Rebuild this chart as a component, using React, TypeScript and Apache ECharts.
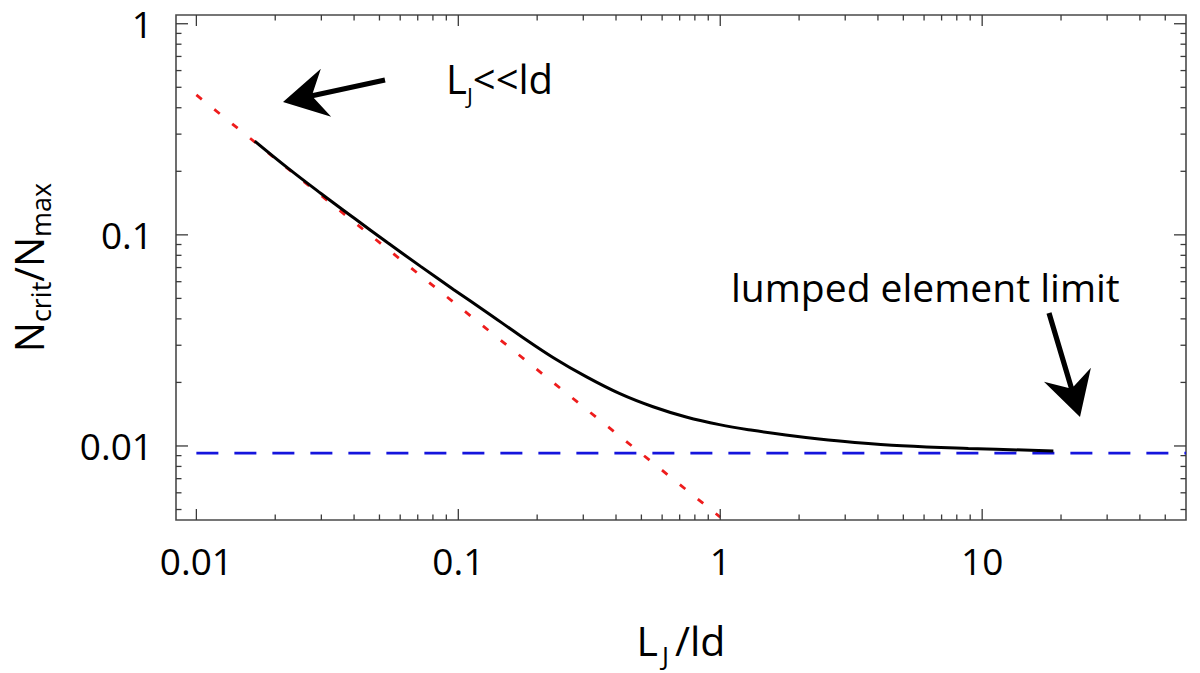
import React, { useEffect, useRef } from "react";
import * as echarts from "echarts";

// ---- data ----
const xTickValues = [0.01, 0.1, 1, 10];
const xTickLabels = ["0.01", "0.1", "1", "10"];
const xMinorTicks = [
  0.02, 0.03, 0.04, 0.05, 0.06, 0.07, 0.08, 0.09,
  0.2, 0.3, 0.4, 0.5, 0.6, 0.7, 0.8, 0.9,
  2, 3, 4, 5, 6, 7, 8, 9,
  20, 30, 40, 50,
];
const yTickValues = [0.01, 0.1, 1];
const yTickLabels = ["0.01", "0.1", "1"];
const yMinorTicks = [
  0.005, 0.006, 0.007, 0.008, 0.009,
  0.02, 0.03, 0.04, 0.05, 0.06, 0.07, 0.08, 0.09,
  0.2, 0.3, 0.4, 0.5, 0.6, 0.7, 0.8, 0.9,
];

// N_crit/N_max vs L_J/ld (black solid curve)
const criticalCurve: [number, number][] = [
  [0.0167, 0.278],
  [0.0223, 0.2077],
  [0.0299, 0.1571],
  [0.0401, 0.1198],
  [0.0536, 0.092],
  [0.0718, 0.0709],
  [0.0961, 0.055],
  [0.1287, 0.0429],
  [0.1724, 0.0333],
  [0.2307, 0.0262],
  [0.3088, 0.02125],
  [0.4137, 0.0177],
  [0.5538, 0.01534],
  [0.741, 0.01372],
  [0.993, 0.01262],
  [1.329, 0.01186],
  [1.779, 0.01127],
  [2.384, 0.01079],
  [3.19, 0.01042],
  [4.94, 0.01003],
  [8.86, 0.00974],
  [18.7, 0.00947],
];
// small-L_J asymptote (red dotted)
const shortJunctionLimit: [number, number][] = [
  [0.01, 0.46],
  [1, 0.0046],
];
// lumped element limit (blue dashed)
const lumpedLimit: [number, number][] = [
  [0.01, 0.00924],
  [60, 0.00924],
];

const X_MIN = 0.00836;
const X_MAX = 60;
const Y_MIN = 0.00446;
const Y_MAX = 1.1;

const FONT = "'Open Sans', 'Noto Sans', sans-serif";

function labelFor(values: number[], labels: string[]) {
  return (v: number) => {
    for (let i = 0; i < values.length; i++) {
      if (Math.abs(Math.log10(v) - Math.log10(values[i])) < 1e-6) return labels[i];
    }
    return "";
  };
}

function arrowPoints(tail: number[], tip: number[]) {
  const dx = tip[0] - tail[0];
  const dy = tip[1] - tail[1];
  const L = Math.hypot(dx, dy);
  const ux = dx / L, uy = dy / L;
  const nx = -uy, ny = ux;
  const headLen = 44, halfW = 24.5, notch = 31, w = 2.6;
  const nb = [tip[0] - ux * notch, tip[1] - uy * notch];
  const hb = [tip[0] - ux * headLen, tip[1] - uy * headLen];
  return [
    [tail[0] + nx * w, tail[1] + ny * w],
    [nb[0] + nx * w, nb[1] + ny * w],
    [hb[0] + nx * halfW, hb[1] + ny * halfW],
    [tip[0], tip[1]],
    [hb[0] - nx * halfW, hb[1] - ny * halfW],
    [nb[0] - nx * w, nb[1] - ny * w],
    [tail[0] - nx * w, tail[1] - ny * w],
  ];
}

const TICK_COLOR = "#3a3a3a";

export default function App() {
  const ref = useRef<HTMLDivElement>(null);
  useEffect(() => {
    if (!ref.current) return;
    const chart = echarts.init(ref.current, undefined, { renderer: "svg" });

    const xTickData = [
      ...xTickValues.map((v) => [v, 0.01, 11]),
      ...xMinorTicks.map((v) => [v, 0.01, 5.5]),
    ];
    const yTickData = [
      ...yTickValues.map((v) => [1, v, 12]),
      ...yMinorTicks.map((v) => [1, v, 5.5]),
    ];

    const option: any = {
      animation: false,
      backgroundColor: "#ffffff",
      grid: {
        left: 171,
        right: 14,
        top: 15,
        bottom: 151,
        show: true,
        borderColor: "#4a4a4a",
        borderWidth: 1.6,
        backgroundColor: "transparent",
      },
      xAxis: {
        type: "log",
        logBase: 10,
        min: X_MIN,
        max: X_MAX,
        axisLine: { show: false },
        axisTick: { show: false },
        splitLine: { show: false },
        axisLabel: {
          formatter: labelFor(xTickValues, xTickLabels),
          fontFamily: FONT,
          fontSize: 37,
          lineHeight: 40,
          color: "#000",
          margin: 20,
        },
        name: "{m|L}{s|J}{m|/ld}",
        nameLocation: "middle",
        nameGap: 92,
        nameTextStyle: {
          rich: {
            m: { fontFamily: FONT, fontSize: 41, color: "#000", lineHeight: 56, verticalAlign: "middle" },
            s: { fontFamily: FONT, fontSize: 26, color: "#000", lineHeight: 26, verticalAlign: "bottom", padding: [0, 6, 0, 4] },
          },
        },
      },
      yAxis: {
        type: "log",
        logBase: 10,
        min: Y_MIN,
        max: Y_MAX,
        axisLine: { show: false },
        axisTick: { show: false },
        splitLine: { show: false },
        axisLabel: {
          formatter: labelFor(yTickValues, yTickLabels),
          fontFamily: FONT,
          fontSize: 37,
          lineHeight: 40,
          color: "#000",
          margin: 23,
        },
        name: "{m|N}{s|crit}{m|/N}{s|max}",
        nameLocation: "middle",
        nameRotate: 90,
        nameGap: 122,
        nameTextStyle: {
          rich: {
            m: { fontFamily: FONT, fontSize: 40, color: "#000", lineHeight: 52, verticalAlign: "middle" },
            s: { fontFamily: FONT, fontSize: 27, color: "#000", lineHeight: 27, verticalAlign: "bottom" },
          },
        },
      },
      series: [
        {
          type: "line",
          name: "lumped",
          data: lumpedLimit,
          showSymbol: false,
          silent: true,
          lineStyle: { color: "#1515dd", width: 2.8, type: [22, 16], cap: "butt" },
          z: 2,
        },
        {
          type: "line",
          name: "short",
          data: shortJunctionLimit,
          showSymbol: false,
          silent: true,
          lineStyle: { color: "#ee1c1c", width: 2.8, type: [7, 16], cap: "butt" },
          z: 3,
        },
        {
          type: "line",
          name: "critical",
          data: criticalCurve,
          showSymbol: false,
          silent: true,
          smooth: 0.4,
          lineStyle: { color: "#000", width: 3 },
          z: 4,
        },
        {
          type: "custom",
          name: "xticks",
          coordinateSystem: "cartesian2d",
          silent: true,
          clip: false,
          data: xTickData,
          z: 5,
          renderItem: (params: any, api: any) => {
            const cs = params.coordSys;
            const p = api.coord([api.value(0), api.value(1)]);
            const len = api.value(2);
            const bottom = cs.y + cs.height;
            const style = { stroke: TICK_COLOR, lineWidth: 1.3 };
            return {
              type: "group",
              children: [
                { type: "line", shape: { x1: p[0], y1: bottom, x2: p[0], y2: bottom - len }, style },
                { type: "line", shape: { x1: p[0], y1: cs.y, x2: p[0], y2: cs.y + len }, style },
              ],
            };
          },
        },
        {
          type: "custom",
          name: "yticks",
          coordinateSystem: "cartesian2d",
          silent: true,
          clip: false,
          data: yTickData,
          z: 5,
          renderItem: (params: any, api: any) => {
            const cs = params.coordSys;
            const p = api.coord([api.value(0), api.value(1)]);
            const len = api.value(2);
            const right = cs.x + cs.width;
            const style = { stroke: TICK_COLOR, lineWidth: 1.3 };
            return {
              type: "group",
              children: [
                { type: "line", shape: { x1: cs.x, y1: p[1], x2: cs.x + len, y2: p[1] }, style },
                { type: "line", shape: { x1: right, y1: p[1], x2: right - len, y2: p[1] }, style },
              ],
            };
          },
        },
      ],
      graphic: [
        {
          type: "polygon",
          shape: { points: arrowPoints([385, 80], [283, 102]) },
          style: { fill: "#000" },
          silent: true,
        },
        {
          type: "polygon",
          shape: { points: arrowPoints([1049, 313], [1080, 417]) },
          style: { fill: "#000" },
          silent: true,
        },
        {
          type: "text",
          x: 446,
          y: 78,
          silent: true,
          style: {
            text: "{m|L}{s|J}{m|<<ld}",
            verticalAlign: "middle",
            align: "left",
            rich: {
              m: { fontFamily: FONT, fontSize: 40, fill: "#000", lineHeight: 56, verticalAlign: "middle" },
              s: { fontFamily: FONT, fontSize: 22, fill: "#000", lineHeight: 22, verticalAlign: "bottom" },
            },
          },
        },
        {
          type: "text",
          x: 731,
          y: 286,
          silent: true,
          style: {
            text: "lumped element limit",
            fontFamily: FONT,
            fontSize: 39,
            fill: "#000",
            align: "left",
            verticalAlign: "middle",
          },
        },
      ],
    };

    chart.setOption(option);
    return () => chart.dispose();
  }, []);

  return (
    <div
      ref={ref}
      style={{ position: "absolute", left: 0, top: 0, width: 1200, height: 673 }}
    />
  );
}
